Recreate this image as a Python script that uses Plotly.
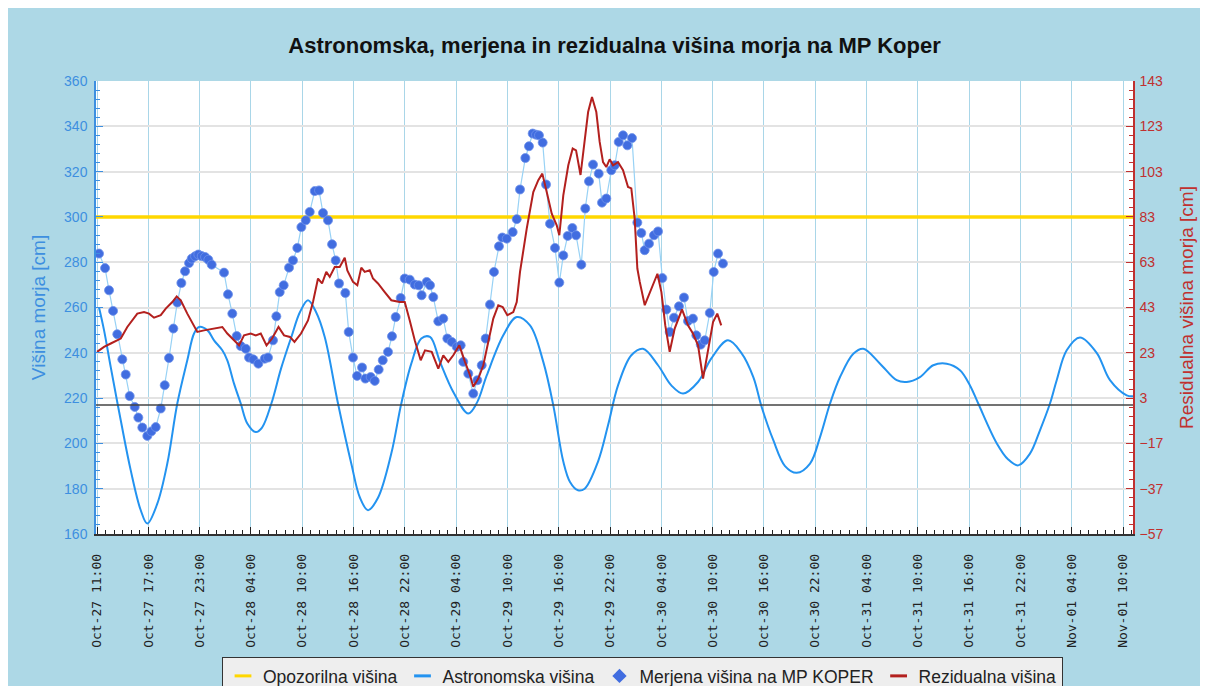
import plotly.graph_objects as go

# ---------------- data (hours since Oct-27 11:00) ----------------
x_tick_labels = [
    "Oct-27 11:00", "Oct-27 17:00", "Oct-27 23:00", "Oct-28 04:00", "Oct-28 10:00",
    "Oct-28 16:00", "Oct-28 22:00", "Oct-29 04:00", "Oct-29 10:00", "Oct-29 16:00",
    "Oct-29 22:00", "Oct-30 04:00", "Oct-30 10:00", "Oct-30 16:00", "Oct-30 22:00",
    "Oct-31 04:00", "Oct-31 10:00", "Oct-31 16:00", "Oct-31 22:00", "Nov-01 04:00",
    "Nov-01 10:00",
]
tick_step_h = 5.95

warning_level = 300          # Opozorilna višina [cm]
residual_zero = 0            # reference line for residual axis

astro_h = [0.23, 0.81, 1.59, 2.75, 3.91, 5.07, 5.83, 6.99, 8.15, 9.31, 10.47, 11.25, 11.83,
           12.79, 13.57, 14.53, 15.11, 15.89, 16.67, 17.43, 18.41, 19.14, 20.22, 21.34, 22.54,
           23.54, 24.47, 25.40, 26.41, 27.95, 29.49, 30.50, 31.43, 32.59, 34.13, 35.29, 36.45,
           37.61, 38.62, 39.78, 41.32, 43.06, 44.07, 45.20, 47.12, 48.68, 50.22, 51.76, 52.92,
           54.08, 54.86, 55.79, 56.56, 58.11, 59.27, 60.43, 61.97, 63.33, 65.07, 66.61, 67.97,
           69.71, 71.25, 73.18, 74.73, 76.12, 77.09, 78.44, 79.80, 81.15, 82.70, 83.86, 85.02,
           86.18, 87.72, 88.88, 90.82, 92.75, 93.91, 95.45, 96.99, 98.55, 100.09, 101.25,
           102.21, 104.35, 105.66, 106.85, 108.21, 109.37, 110.53, 111.31, 112.47, 114.01,
           115.95, 117.49, 119.43, 120.16]
astro_cm = [260, 250, 233.7, 210.2, 188.1, 170.5, 164.6, 173.4, 191.1, 217.6, 236.7, 248.5, 251.4,
            250, 245.5, 241.1, 236.7, 226.4, 217.6, 208.8, 205, 207, 217.6, 233, 247,
            258, 263.2, 258, 247, 217.6, 191.1, 176, 170.5, 176, 195.5, 217.6, 235.2,
            246.3, 247, 236, 222.7, 213.2, 218, 230, 247.7, 255.8, 252.1, 236, 216.8,
            192, 183, 179.3, 180, 192, 208, 225.6, 238.9, 241.8, 234.5, 225.6, 222,
            227.1, 237.5, 245.5, 240, 229.3, 216.1, 201.4, 190, 187, 191.1, 202.8, 217.6,
            229.3, 239.6, 241.8, 235.2, 227.9, 227.1, 229.3, 234.5, 235.2, 232.3, 225.6,
            217.6, 200.1, 193, 190.3, 195.5, 205.8, 217.6, 227.9, 241.1, 246.8,
            240, 227.9, 221.2, 220.8]

meas_h = [0.23, 0.93, 1.39, 1.86, 2.35, 2.93, 3.33, 3.79, 4.37, 4.79, 5.25, 5.83, 6.30, 6.81,
          7.39, 7.85, 8.35, 8.85, 9.31, 9.78, 10.21, 10.67, 10.98, 11.37, 11.75, 12.14, 12.53,
          12.91, 13.30, 14.73, 15.19, 15.69, 16.20, 16.67, 17.25, 17.63, 18.13, 18.71, 19.45,
          19.83, 20.41, 20.80, 21.19, 21.65, 22.27, 22.73, 23.23, 23.70, 24.21, 24.67, 25.25,
          25.75, 26.21, 26.79, 27.26, 27.68, 28.07, 28.80, 29.19, 29.69, 30.16, 30.74, 31.12,
          31.74, 32.21, 32.67, 33.14, 33.75, 34.21, 34.64, 35.22, 35.69, 36.27, 36.85, 37.31,
          37.65, 38.24, 38.62, 39.00, 39.58, 40.16, 40.63, 41.14, 41.72, 42.18, 42.48, 43.06,
          43.64, 44.11, 44.62, 45.08, 45.58, 46.04, 46.62, 47.01, 47.52, 48.21, 48.68, 49.06,
          49.68, 50.10, 50.53, 50.92, 51.26, 51.69, 52.08, 52.54, 53.12, 53.62, 54.08, 54.59,
          55.13, 55.56, 56.17, 56.63, 57.06, 57.53, 58.19, 58.57, 59.07, 59.65, 60.05, 60.51,
          61.01, 61.51, 62.05, 62.67, 63.13, 63.52, 64.02, 64.60, 65.07, 65.57, 66.03, 66.42,
          66.92, 67.50, 68.08, 68.54, 69.12, 69.51, 70.02, 70.49, 71.07, 71.53, 72.03, 72.60]
meas_cm = [283.8, 277.4, 267.6, 258.5, 248.2, 237.1, 230.4, 220.9, 216.1, 211.4, 207, 203.3, 205.3, 207.2,
           215.4, 225.7, 237.7, 250.7, 262.2, 270.8, 276, 279.6, 281.6, 282.6, 283.4, 282.7, 282.3,
           281.1, 278.9, 275.4, 265.8, 257.3, 247.4, 243, 241.8, 237.9, 237.1, 235.2, 237.4,
           237.9, 245.5, 256.1, 266.8, 269.8, 277.6, 280.8, 286.3, 295.5, 298.5, 302.2, 311.4,
           311.7, 301.7, 298.5, 287.9, 280.8, 270.6, 266.4, 249.2, 237.9, 229.8, 233.5, 228.6,
           229.3, 227.6, 232.6, 236.7, 240.4, 247.3, 255.8, 264.2, 272.8, 272.3, 270.1, 269.8,
           265.4, 271.3, 269.8, 264.6, 253.9, 255.1, 246.3, 244.8, 242.6, 243.3, 236, 230.8,
           222, 227.9, 234.5, 246.3, 261.3, 275.7, 287, 290.9, 290.4, 293.3, 299, 312.1,
           326, 331.2, 336.8, 336.3, 336, 332.8, 314.3, 297, 286.3, 271, 283, 291.6,
           295.1, 291.9, 278.9, 303.7, 315.7, 323.1, 319.1, 306.3, 308.1, 320.6, 322.8, 333.1,
           336, 331.6, 334.8, 297.5, 292.9, 285.3, 288.2, 291.9, 293.6, 273, 259.1, 249.2,
           255.5, 260.5, 264.4, 254, 255.1, 247.7, 243.6, 245.5, 257.6, 275.7, 283.8, 279.4]

resid_h = [0.0, 0.81, 1.59, 2.75, 3.51, 4.67, 5.45, 6.03, 6.61, 7.39, 7.97, 8.73, 9.24, 9.71,
           10.47, 11.63, 12.41, 13.57, 14.53, 15.11, 15.89, 16.47, 17.05, 17.83, 18.41, 18.99,
           19.66, 20.30, 21.05, 21.69, 22.38, 22.90, 23.66, 24.47, 25.05, 25.63, 26.10, 26.59,
           26.99, 27.57, 28.15, 28.73, 29.03, 29.69, 30.19, 30.65, 31.05, 31.63, 32.01, 32.59,
           33.37, 34.13, 35.11, 35.69, 36.27, 36.85, 37.54, 38.04, 38.82, 39.58, 40.16, 40.74,
           41.32, 42.02, 42.68, 43.26, 43.64, 44.22, 44.80, 45.38, 45.96, 46.54, 47.05, 47.59,
           48.28, 48.68, 49.06, 49.84, 50.60, 51.18, 51.65, 52.16, 52.74, 53.32, 53.62, 54.08,
           54.66, 55.17, 55.56, 56.08, 56.54, 56.96, 57.41, 57.91, 58.30, 58.69, 59.07, 59.46,
           59.85, 60.43, 61.01, 61.59, 61.97, 62.36, 62.67, 62.95, 63.53, 64.30, 65.00, 65.46,
           65.91, 66.42, 67.00, 67.85, 68.54, 69.12, 69.71, 70.29, 70.87, 71.45, 71.94, 72.40]
resid_cm = [23.4, 25.6, 27.1, 29.3, 34.4, 40.3, 41, 40.3, 38.5, 39.6, 42.5, 45.4, 47.9, 46.2,
            40.3, 32.2, 32.9, 33.7, 34.4, 31.5, 28.5, 26.3, 30.7, 31.5, 30.7, 31.5,
            26.3, 29.3, 34.4, 30.7, 30, 27.8, 31.5, 37.3, 45.4, 55.8, 53.6, 58.7,
            56.5, 60.9, 60.9, 65, 59.4, 54.3, 52.8, 60.6, 58.7, 59.4, 55.8, 53.6,
            49.8, 46.2, 45.4, 45.4, 37.3, 28.5, 19.7, 24.1, 23.4, 16, 21.9, 19,
            21.9, 26.3, 19, 13.1, 8, 11.6, 17.5, 27.8, 38.1, 44, 43.2, 39.6,
            41, 45.4, 58.7, 77.8, 94, 99.2, 102.1, 94, 84.4, 79.3, 74.9, 92.5,
            105.8, 113.2, 112.4, 101.5, 117.6, 129.3, 135.9, 129.3, 116.1, 107.2, 105, 108.4,
            105.8, 107.2, 103.6, 96.2, 95.6, 82.3, 60.2, 54.3, 44, 51.3, 57.9, 49.8,
            35.1, 23.4, 33.7, 42.2, 35.1, 31.5, 26.3, 11.6, 23.4, 36.6, 40.3, 35.1]

# ---------------- styling ----------------
W, H = 1200, 686
ML, MR, MT, MB = 88, 75, 73, 160
PW, PH = W - ML - MR, H - MT - MB
x_range = [-0.12, 120.16]

BG = "#add8e6"
BLUE_AX = "#3d8fe0"
RED_AX = "#c0302f"
FONT = "Liberation Sans, Arial, sans-serif"

C_WARN = "#ffd700"
C_ASTRO = "#2393f0"
C_MEAS = "#416de0"
C_RESID = "#b3201e"

fig = go.Figure()

# actual marks
fig.add_trace(go.Scatter(
    x=x_range, y=[warning_level, warning_level], mode="lines",
    line=dict(color=C_WARN, width=3.5), showlegend=False,
))
fig.add_trace(go.Scatter(
    x=astro_h, y=astro_cm, mode="lines", line=dict(color=C_ASTRO, width=2, shape="spline"),
    showlegend=False,
))
fig.add_trace(go.Scatter(
    x=meas_h, y=meas_cm, mode="lines", line=dict(color="#98d2f5", width=1.2),
    showlegend=False, hoverinfo="skip",
))
fig.add_trace(go.Scatter(
    x=meas_h, y=meas_cm, mode="markers",
    marker=dict(color=C_MEAS, size=9, symbol="circle",
                line=dict(color="#6f92ea", width=0.8)),
    showlegend=False,
))
fig.add_trace(go.Scatter(
    x=x_range, y=[residual_zero, residual_zero], mode="lines", yaxis="y2",
    line=dict(color="#444444", width=1.5), showlegend=False, hoverinfo="skip",
))
fig.add_trace(go.Scatter(
    x=resid_h, y=resid_cm, mode="lines", yaxis="y2",
    line=dict(color=C_RESID, width=2), showlegend=False,
))

# legend entries (short dash / diamond symbols like the original)
legend_items = [
    ("Opozorilna višina", "line-ew", C_WARN, 12),
    ("Astronomska višina", "line-ew", C_ASTRO, 12),
    ("Merjena višina na MP KOPER", "diamond", C_MEAS, 11),
    ("Rezidualna višina", "line-ew", C_RESID, 12),
]
for name, sym, col, sz in legend_items:
    if sym == "line-ew":
        mk = dict(symbol=sym, size=sz, color=col, line=dict(color=col, width=3))
    else:
        mk = dict(symbol=sym, size=sz, color=col, line=dict(width=0))
    fig.add_trace(go.Scatter(x=[None], y=[None], mode="markers", marker=mk, name=name))

fig.update_layout(
    width=W, height=H,
    margin=dict(l=ML, r=MR, t=MT, b=MB, autoexpand=False),
    paper_bgcolor=BG, plot_bgcolor="white",
    font=dict(family=FONT, size=14, color="#222"),
    title=dict(text="<b>Astronomska, merjena in rezidualna višina morja na MP Koper</b>",
               x=0.5, xref="paper", xanchor="center", y=1 - 37 / H, yref="container",
               yanchor="middle", font=dict(family=FONT, size=22, color="#111")),
    xaxis=dict(
        range=x_range, tickmode="array",
        tickvals=[i * tick_step_h for i in range(len(x_tick_labels))],
        ticktext=x_tick_labels, tickangle=-90,
        tickfont=dict(family="DejaVu Sans Mono, monospace", size=13, color="#222"),
        showgrid=True, gridcolor="#a9d6e8", gridwidth=1,
        ticks="inside", ticklen=7, tickcolor="#222", tickwidth=1,
        minor=dict(dtick=tick_step_h / 6, tick0=0, ticks="inside", ticklen=4,
                   tickcolor="#222", showgrid=False),
        showline=True, linecolor="#333", linewidth=1.5, zeroline=False,
        ticklabelstandoff=13,
    ),
    yaxis=dict(
        range=[160, 360], tick0=160, dtick=20,
        tickfont=dict(family=FONT, size=14, color=BLUE_AX),
        title=dict(text="Višina morja [cm]", font=dict(family=FONT, size=19, color=BLUE_AX),
                   standoff=13),
        showgrid=True, gridcolor="#e3e3e3", gridwidth=1.5,
        ticks="inside", ticklen=7, tickcolor=BLUE_AX, tickwidth=1,
        minor=dict(dtick=4, tick0=160, ticks="inside", ticklen=4, tickcolor=BLUE_AX,
                   showgrid=False),
        showline=True, linecolor=BLUE_AX, linewidth=1.5, zeroline=False,
        ticklabelstandoff=4,
    ),
    yaxis2=dict(
        range=[-57, 143], tick0=3, dtick=20, overlaying="y", side="right",
        tickfont=dict(family=FONT, size=14, color=RED_AX),
        title=dict(text="Residualna višina morja [cm]", font=dict(family=FONT, size=19, color=RED_AX),
                   standoff=17),
        showgrid=False,
        ticks="inside", ticklen=7, tickcolor=RED_AX, tickwidth=1,
        minor=dict(dtick=4, tick0=3, ticks="inside", ticklen=4, tickcolor=RED_AX),
        showline=True, linecolor=RED_AX, linewidth=1.5, zeroline=False,
        ticklabelstandoff=2,
    ),
    legend=dict(
        orientation="h", x=(214 - ML) / PW, xanchor="left",
        y=-(649 - (MT + PH)) / PH, yanchor="top",
        bgcolor="#eeeeee", bordercolor="#333", borderwidth=1,
        font=dict(family=FONT, size=17.5, color="#222"),
        itemwidth=30, traceorder="normal",
    ),
    showlegend=True,
)

fig.write_html(
    "out.html",
    post_script=(
        "var s=document.createElement('style');"
        "s.textContent='html,body{overflow:hidden;scrollbar-width:none;}"
        "::-webkit-scrollbar{display:none;width:0;height:0;}';"
        "document.head.appendChild(s);"
    ),
)
